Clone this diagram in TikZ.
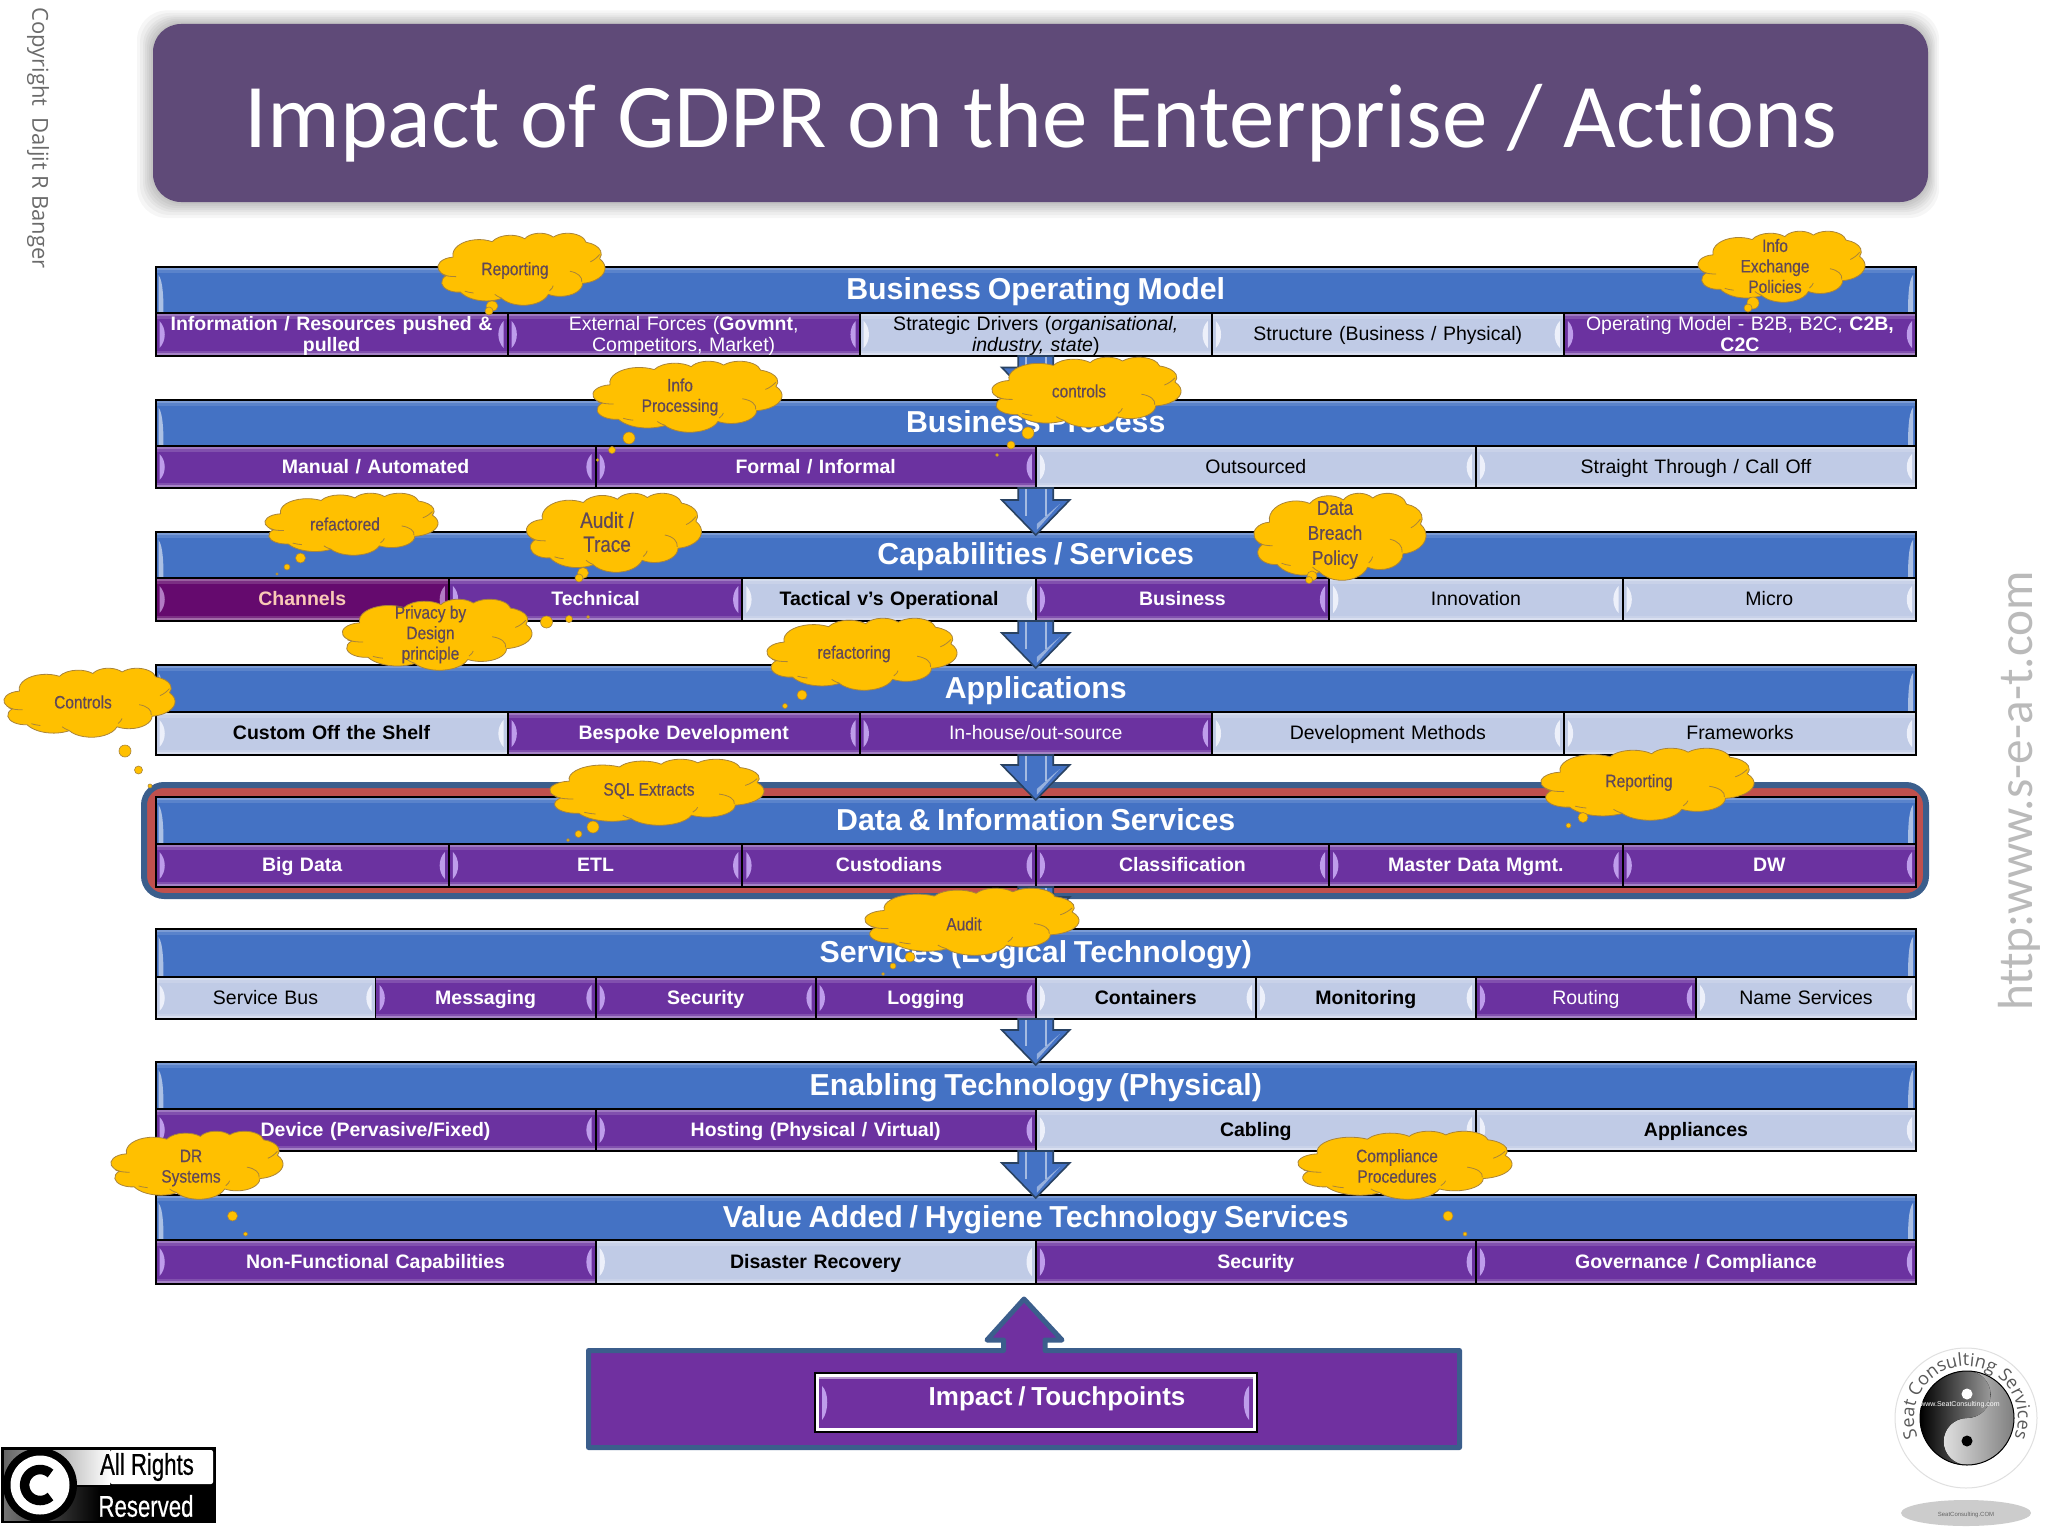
\documentclass[tikz,border=0pt]{standalone}
\usepackage{fontspec}
\setmainfont[WordSpace=0.8]{Liberation Sans}
\newfontfamily\cali[Ligatures=CommonOff]{Carlito}
\newfontfamily\narrow[FakeStretch=0.86,FakeBold=0.35]{Liberation Sans}
\newfontfamily\narrowb[FakeStretch=0.74,FakeBold=0.6]{Liberation Sans}
\newfontfamily\opensans{Open Sans}
\usetikzlibrary{calc,decorations.text}
\definecolor{hdrblue}{HTML}{4472C4}
\definecolor{cellp}{HTML}{6B32A0}
\definecolor{celll}{HTML}{C0CBE6}
\definecolor{cellm}{HTML}{650A6E}
\definecolor{lensp}{HTML}{BE9DEB}
\definecolor{lensl}{HTML}{EDF0FA}
\definecolor{lensm}{HTML}{B27CC4}
\definecolor{txp}{HTML}{FFFFFF}
\definecolor{txl}{HTML}{000000}
\definecolor{txm}{HTML}{F9C9B6}
\definecolor{framebl}{HTML}{3B5E8C}
\definecolor{framerd}{HTML}{C0504D}
\definecolor{titlebg}{HTML}{5F4A78}
\definecolor{cloudy}{HTML}{FFC000}
\definecolor{cloudln}{HTML}{A9843A}
\definecolor{cloudtx}{HTML}{604858}
\definecolor{touchp}{HTML}{7030A0}
\makeatletter
\newcommand\defseg[4]{%
  \pgfmathsetmacro\tmpa{(#3)+atan2((#1-#2)*sin(#3)*cos(#3),#2*cos(#3)^2+#1*sin(#3)^2)}%
  \pgfmathsetmacro\tmpe{(#3)+(#4)}%
  \pgfmathsetmacro\tmpb{\tmpe+atan2((#1-#2)*sin(\tmpe)*cos(\tmpe),#2*cos(\tmpe)^2+#1*sin(\tmpe)^2)}%
  \xdef\cloudpath{\cloudpath arc[x radius=#1pt,y radius=#2pt,start angle=\tmpa,end angle=\tmpb] }%
}
\makeatother
\def\cloudpath{(3.900,14.370) }
\defseg{6.753}{9.190}{-190.487}{123.781}
\defseg{5.333}{7.267}{-144.102}{89.945}
\defseg{4.365}{5.945}{-145.808}{99.723}
\defseg{4.857}{6.595}{-130.986}{117.242}
\defseg{5.333}{7.273}{-78.709}{109.027}
\defseg{6.775}{9.220}{-46.267}{130.269}
\defseg{5.785}{7.867}{0.625}{114.033}
\defseg{6.752}{9.215}{22.452}{115.173}
\defseg{7.720}{10.543}{66.243}{75.711}
\defseg{4.360}{5.918}{-274.942}{146.736}
\defseg{4.345}{5.945}{-246.829}{152.519}
\newcommand\cellstrutA{\rule[-3.8pt]{0pt}{20pt}}
\newcommand\headstrut{\rule[-6pt]{0pt}{32pt}}
\tikzset{
  cellnode/.style={draw=black,line width=1.8pt,inner sep=0pt,outer sep=0pt,anchor=north west,align=center,font=\fontsize{19.5}{21}\selectfont},
  headnode/.style={draw=black,line width=2pt,inner sep=0pt,outer sep=0pt,anchor=north west,text=white,font=\bfseries\fontsize{30.3}{33}\selectfont},
  cloudshape/.style={fill=cloudy,draw=cloudln,line width=.8pt,line join=round},
  cloudtick/.style={draw=cloudln,line width=.8pt},
  cloudlabel/.style={text=cloudtx,align=center,inner sep=0pt,font=\narrow\fontsize{18}{20.5}\selectfont},
  bubble/.style={fill=cloudy,draw=cloudln,line width=.6pt},
  flowarrow/.style={fill=hdrblue,draw=framebl!70!black,line width=1.6pt,line join=miter},
  flowshine/.style={draw=hdrblue!35!white,line width=2.5pt,opacity=.8},
}
% name, x0,x1,y0,y1,kind,text
\newcommand\rowcell[7]{%
  \fill[cell#6] (#2,#4) rectangle (#3,#5);
  \fill[white,opacity=.35] (#2,#4) rectangle (#3,#4+3);
  \fill[white,opacity=.15] (#2,#4+3) rectangle (#3,#4+6);
  \fill[white,opacity=.4] (#2,#5-3) rectangle (#3,#5);
  \fill[white,opacity=.15] (#2,#5-5) rectangle (#3,#5-3);
  \fill[lens#6] (#2+4,#4+8) .. controls (#2+11,#4+15) and (#2+11,#5-15) .. (#2+4,#5-8) -- cycle;
  \fill[lens#6] (#3-4,#4+8) .. controls (#3-11,#4+15) and (#3-11,#5-15) .. (#3-4,#5-8) -- cycle;
  \pgfmathsetmacro\cw{#3-#2}\pgfmathsetmacro\ch{#5-#4}\pgfmathsetmacro\ctw{#3-#2-6}
  \node[cellnode,text=tx#6,minimum width=\cw pt,minimum height=\ch pt,text width=\ctw pt] (#1) at (#2,#4) {\cellstrutA #7\cellstrutA};
}
% n, ytop, ydiv, ybot, count, title, cells
\newcommand\layerrow[7]{%
  \fill[hdrblue] (155.5,#2) rectangle (1916,#3);
  \fill[white,opacity=.3] (155.5,#2) rectangle (1916,#2+3);
  \fill[white,opacity=.12] (155.5,#2+3) rectangle (1916,#2+6);
  \fill[hdrblue!45!white] (158.5,#2+8) .. controls (163.5,#2+14) and (163.5,#3-10) .. (163.5,#3) -- (158.5,#3) -- cycle;
  \fill[hdrblue!45!white] (1913,#2+8) .. controls (1908,#2+14) and (1908,#3-10) .. (1908,#3) -- (1913,#3) -- cycle;
  \pgfmathsetmacro\ch{#3-#2}
  \node[headnode,minimum width=1760.5pt,minimum height=\ch pt] (h#1) at (155.5,#2) {\headstrut #6};
  \pgfmathsetmacro\cwd{1760.5/#5}
  \foreach \kd/\tx [count=\ci] in {#7} {
    \pgfmathsetmacro\xa{155.5+(\ci-1)*\cwd}
    \pgfmathsetmacro\xb{155.5+\ci*\cwd}
    \rowcell{r#1c\ci}{\xa}{\xb}{#3}{#4}{\kd}{\tx}
  }
  \pgfmathsetmacro\ch{#4-#3}
  \node[draw=black,line width=2pt,inner sep=0pt,outer sep=0pt,anchor=north west,minimum width=1760.5pt,minimum height=\ch pt] (b#1) at (155.5,#3) {};
}
% from row bottom a to row top b
\newcommand\flowdown[2]{%
  \draw[flowarrow] ($(#1.south)+(-17.5,0)$) -- ($(#2.north)+(-17.5,-32)$) -- ($(#2.north)+(-34,-32)$) -- ($(#2.north)+(0,3)$) -- ($(#2.north)+(34,-32)$) -- ($(#2.north)+(17.5,-32)$) -- ($(#1.south)+(17.5,0)$) -- cycle;
  \draw[flowshine] ($(#1.south)+(-10,1)$) -- ($(#2.north)+(-10,-16)$);
  \draw[flowshine] ($(#1.south)+(10,1)$) -- ($(#2.north)+(10,-16)$);
  \fill[hdrblue!45!white,opacity=.8] ($(#2.north)+(24,-28)$) -- ($(#2.north)+(8,-10)$) -- ($(#2.north)+(1,-2)$) -- ($(#2.north)+(1,-8)$) -- cycle;
}
% name,x0,x1,y0,y1
\newcommand\cloudcall[5]{%
  \begin{scope}[shift={(#2,#4)},xscale={(#3-#2)/43.2},yscale={(#5-#4)/43.2}]
    \draw[cloudshape] \cloudpath -- cycle;
    \draw[cloudtick] (1.14,24.86) .. controls (2.2,25.9) and (3.4,26.2) .. (4.693,26.177);
    \draw[cloudtick] (34.129,22.954) .. controls (36.2,23.8) and (37.4,26.4) .. (37.2,29.5);
    \draw[cloudtick] (41.8,12.9) .. controls (41.2,14.6) and (40.4,16.3) .. (39.4,17.3);
    \draw[cloudtick] (6.928,34.899) .. controls (7.6,35.4) and (8.3,35.8) .. (9.2,36.0);
    \draw[cloudtick] (16.478,39.09) .. controls (15.6,38.4) and (15.1,37.6) .. (14.7,36.8);
    \draw[cloudtick] (28.827,34.751) .. controls (29.4,33.6) and (29.7,32.6) .. (29.8,31.6);
  \end{scope}
}
\begin{document}
\begin{tikzpicture}[x=1pt,y=1pt,yscale=-1]
\useasboundingbox (0,0) rectangle (2048,1536);
\fill[white] (0,0) rectangle (2048,1536);

% title
\foreach \g in {16,13,10,8,6,4,2} {
  \fill[black,opacity=.035,rounded corners=30pt] (153-\g,24-\g*.85) rectangle (1928+\g*.7,202+\g);
}
\node[fill=titlebg,rounded corners=28pt,minimum width=1775pt,minimum height=178pt,inner sep=0pt,outer sep=0pt,anchor=north west] (title) at (153,24) {};
\node[text=white,font=\cali\fontsize{91}{91}\selectfont,inner sep=0pt,anchor=base] (titletext) at (1041,147) {Impact of GDPR on the Enterprise / Actions};

% side texts
\node[rotate=-90,text=black!58,font=\opensans\fontsize{22}{22}\selectfont,inner sep=0pt] (copy) at (38,138) {Copyright\hspace{.5em}Daljit R Banger};
\node[rotate=90,text=black!27,font=\cali\fontsize{49.3}{49.3}\selectfont,inner sep=0pt,anchor=base] (web) at (2032,791) {http:www.s-e-a-t.com};

% data frame
\node[fill=framerd,draw=framebl,line width=6pt,rounded corners=20pt,minimum width=1782pt,minimum height=111pt,inner sep=0pt,outer sep=0pt,anchor=north west] (dataframe) at (144,785) {};

\layerrow{1}{267}{313}{356}{5}{Business Operating Model}{
  p/{\textbf{Information / Resources pushed \&\\pulled}},
  p/{External Forces (\textbf{Govmnt},\\Competitors, Market)},
  l/{Strategic Drivers (\textit{organisational,\\industry, state})},
  l/{Structure (Business / Physical)},
  p/{Operating Model - B2B, B2C, \textbf{C2B,\\C2C}}}
\layerrow{2}{399.5}{446}{488}{4}{Business Process}{
  p/{\textbf{Manual / Automated}},
  p/{\textbf{Formal / Informal}},
  l/{Outsourced},
  l/{Straight Through / Call Off}}
\layerrow{3}{532}{578}{621}{6}{Capabilities / Services}{
  m/{\textbf{Channels}},
  p/{\textbf{Technical}},
  l/{\textbf{Tactical v's Operational}},
  p/{\textbf{Business}},
  l/{Innovation},
  l/{Micro}}
\layerrow{4}{665}{712}{755}{5}{Applications}{
  l/{\textbf{Custom Off the Shelf}},
  p/{\textbf{Bespoke Development}},
  p/{In-house/out-source},
  l/{Development Methods},
  l/{Frameworks}}
\layerrow{5}{797}{844}{887}{6}{Data \& Information Services}{
  p/{\textbf{Big Data}},
  p/{\textbf{ETL}},
  p/{\textbf{Custodians}},
  p/{\textbf{Classification}},
  p/{\textbf{Master Data Mgmt.}},
  p/{\textbf{DW}}}
\layerrow{6}{929}{977}{1019}{8}{Services (Logical Technology)}{
  l/{Service Bus},
  p/{\textbf{Messaging}},
  p/{\textbf{Security}},
  p/{\textbf{Logging}},
  l/{\textbf{Containers}},
  l/{\textbf{Monitoring}},
  p/{Routing},
  l/{Name Services}}
\layerrow{7}{1062}{1109}{1151}{4}{Enabling Technology (Physical)}{
  p/{\textbf{Device (Pervasive/Fixed)}},
  p/{\textbf{Hosting (Physical / Virtual)}},
  l/{\textbf{Cabling}},
  l/{\textbf{Appliances}}}
\layerrow{8}{1195}{1240}{1284}{4}{Value Added / Hygiene Technology Services}{
  p/{\textbf{Non-Functional Capabilities}},
  l/{\textbf{Disaster Recovery}},
  p/{\textbf{Security}},
  p/{\textbf{Governance / Compliance}}}

\flowdown{b1}{h2}
\flowdown{b2}{h3}
\flowdown{b3}{h4}
\flowdown{b4}{h5}
\flowdown{b5}{h6}
\flowdown{b6}{h7}
\flowdown{b7}{h8}

% clouds
\cloudcall{c1}{438}{605}{233}{305}
\node[cloudlabel] (c1t) at (515,270.5) {Reporting};
\draw[bubble] (492,306) ellipse (6 and 5); \draw[bubble] (489,311) circle (4);

\cloudcall{c2}{593}{782}{361}{432}
\node[cloudlabel] (c2t) at (680,397) {Info\\Processing};
\draw[bubble] (629,438) circle (6); \draw[bubble] (612,450) circle (3.5); \draw[bubble] (597.5,460) circle (1.5);

\cloudcall{c3}{992}{1181}{357}{427}
\node[cloudlabel] (c3t) at (1079,391) {controls};
\draw[bubble] (1028,433) circle (6); \draw[bubble] (1011,445) circle (4); \draw[bubble] (997,455) circle (1.5);

\cloudcall{c4}{265}{438}{493}{555}
\node[cloudlabel] (c4t) at (345,524) {refactored};
\draw[bubble] (300.5,558) circle (5); \draw[bubble] (287,567) circle (3); \draw[bubble] (277,574) circle (1.2);

\cloudcall{c5}{526.5}{701.5}{493}{572}
\node[cloudlabel,font=\narrow\fontsize{22}{24}\selectfont] (c5t) at (607,532) {Audit /\\Trace};
\draw[bubble] (583,573) circle (5.5); \draw[bubble] (579,578) circle (4);

\cloudcall{c6}{1254}{1426}{493}{580}
\node[cloudlabel,font=\narrow\fontsize{20}{25}\selectfont] (c6t) at (1335,535) {Data\\Breach\\Policy};
\draw[bubble] (1312,576) circle (5); \draw[bubble] (1309,580) circle (3.5);

\cloudcall{c7}{342.5}{532}{599}{670}
\node[cloudlabel] (c7t) at (430.5,634.5) {Privacy by\\Design\\principle};
\draw[bubble] (546.5,622) circle (6); \draw[bubble] (569,619) circle (3.5); \draw[bubble] (588,617) circle (1.5);

\cloudcall{c8}{4}{175}{668}{737}
\node[cloudlabel] (c8t) at (83,702) {Controls};
\draw[bubble] (125,751) circle (6); \draw[bubble] (138.5,770) circle (4); \draw[bubble] (150,786) circle (2);

\cloudcall{c9}{767}{957}{618}{690}
\node[cloudlabel] (c9t) at (854,654) {refactoring};
\draw[bubble] (802,695) circle (5); \draw[bubble] (785,706) circle (2.5);

\cloudcall{c10}{550}{764}{759}{825}
\node[cloudlabel] (c10t) at (649,791) {SQL Extracts};
\draw[bubble] (593,827) circle (6); \draw[bubble] (578.5,834) circle (3.5); \draw[bubble] (568,840) circle (1.5);

\cloudcall{c11}{1541}{1754}{748}{820}
\node[cloudlabel] (c11t) at (1639,782.5) {Reporting};
\draw[bubble] (1583,817.5) circle (5); \draw[bubble] (1568.5,825.5) circle (2.5);

\cloudcall{c12}{1698}{1865}{231}{302}
\node[cloudlabel] (c12t) at (1775,266) {Info\\Exchange\\Policies};
\draw[bubble] (1753,303) circle (6); \draw[bubble] (1748,308) circle (4);

\cloudcall{c13}{865}{1079}{888}{955}
\node[cloudlabel] (c13t) at (964,924) {Audit};
\draw[bubble] (910,957) circle (5); \draw[bubble] (893,966) circle (3); \draw[bubble] (883,974) circle (1.5);

\cloudcall{c14}{111}{283}{1131}{1199}
\node[cloudlabel] (c14t) at (191,1168) {DR\\Systems};
\draw[bubble] (232.5,1216) circle (5); \draw[bubble] (245.5,1234) circle (2);

\cloudcall{c15}{1298}{1512}{1131}{1199}
\node[cloudlabel] (c15t) at (1397,1166) {Compliance\\Procedures};
\draw[bubble] (1448,1216) circle (5); \draw[bubble] (1465,1234) circle (2);

% impact box
\draw[fill=touchp,draw=framebl,line width=5pt,line join=round] (588.5,1350.5) -- (1003.5,1350.5) -- (1003.5,1340) -- (987,1340) -- (1024,1299) -- (1062,1340) -- (1045,1340) -- (1045,1350.5) -- (1459.5,1350.5) -- (1459.5,1447.5) -- (588.5,1447.5) -- cycle;
\node[draw=black,line width=2pt,fill=white,minimum width=442pt,minimum height=59pt,inner sep=0pt,outer sep=0pt,anchor=north west] (touch) at (814.5,1373) {};
\fill[touchp] (818.5,1377) rectangle (1252.5,1428);
\fill[white,opacity=.5] (818.5,1377) rectangle (1252.5,1379);
\fill[lensp] (822,1386) .. controls (829,1392) and (829,1412) .. (822,1420) -- cycle;
\fill[lensp] (1249,1386) .. controls (1242,1392) and (1242,1412) .. (1249,1420) -- cycle;
\node[text=white,font=\bfseries\fontsize{26}{27}\selectfont,inner sep=0pt] (touchtext) at (1057,1399) {Impact / Touchpoints};

% copyright badge
\node[fill=black,minimum width=215pt,minimum height=76pt,inner sep=0pt,outer sep=0pt,anchor=north west] (badge) at (1,1447) {};
\begin{scope}
\path[left color=black!60,right color=white] (4,1450) rectangle (110,1484);
\fill[white,rounded corners=2pt] (110,1450) rectangle (213,1484);
\path[left color=black!55,right color=black] (4,1487) rectangle (100,1520);
\fill[black] (40,1485) circle (37);
\fill[white] (40,1485) circle (29.5);
\draw[black,line width=9.5pt] (50.5,1473.5) arc[start angle=-48,delta angle=-264,radius=15.5];
\end{scope}
\node[text=black,font=\narrowb\fontsize{30}{32}\selectfont,inner sep=0pt] (allrights) at (147,1467) {All Rights};
\node[text=white,font=\narrowb\fontsize{30}{32}\selectfont,inner sep=0pt] (reserved) at (146,1506) {Reserved};

% logo
\fill[black!20] (1966,1513) ellipse (65 and 13);
\node[text=black!60,font=\fontsize{6}{6}\selectfont,inner sep=0pt] (logourl) at (1966,1515) {SeatConsulting.COM};
\draw[black!12,line width=1pt,fill=white] (1966,1418) ellipse (71 and 70);
\fill[left color=white,right color=black!50] (1967,1418) circle (47);
\fill[left color=black,right color=black!40] (1967,1371) arc[start angle=-90,delta angle=-180,radius=47] arc[start angle=90,delta angle=180,radius=23.5] arc[start angle=90,delta angle=-180,radius=23.5] -- cycle;
\draw[black,line width=1pt] (1967,1418) circle (47);
\fill[white] (1967,1394) circle (5.5);
\fill[black] (1967,1441) circle (5.5);
\node[text=white,font=\fontsize{7}{7}\selectfont,inner sep=0pt] (logoweb) at (1960,1405) {www.SeatConsulting.com};
\begin{scope}[shift={(1966,1418)},yscale=-1]
\path[postaction={decorate},decoration={text along path,text align=center,text={|\opensans\fontsize{18}{18}\selectfont\color{black!65}|Seat Consulting Services}}] (198:52) arc[start angle=198,delta angle=-216,radius=52];
\end{scope}
\end{tikzpicture}
\end{document}
